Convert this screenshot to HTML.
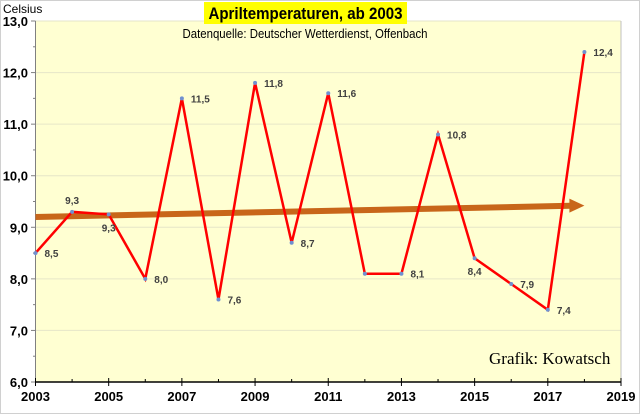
<!DOCTYPE html>
<html><head><meta charset="utf-8"><style>
body{margin:0;background:#fff}
svg{display:block;font-family:"Liberation Sans",sans-serif}
</style></head><body>
<svg id="c" width="640" height="414">
<rect x="0.5" y="0.5" width="639" height="413" fill="#fff" stroke="#d0d0d0"/>
<rect x="35.5" y="21" width="585.5" height="361" fill="#ffffd2"/>
<g id="grid"></g>
<g id="axes"></g>
<text x="3" y="13" font-size="12" fill="#000">Celsius</text>
<rect x="204" y="2" width="203" height="22" fill="#ffff00"/>
<text x="305.5" y="19" font-size="17" font-weight="bold" text-anchor="middle" textLength="194" lengthAdjust="spacingAndGlyphs">Apriltemperaturen,  ab 2003</text>
<text x="305" y="38" font-size="12.5" text-anchor="middle" textLength="245" lengthAdjust="spacingAndGlyphs">Datenquelle: Deutscher Wetterdienst, Offenbach</text>
<text x="489" y="364" font-size="17" font-family="Liberation Serif, serif">Grafik: Kowatsch</text>
<g id="trend"></g>
<g id="series"></g>
</svg>
<script>
const years=[2003,2004,2005,2006,2007,2008,2009,2010,2011,2012,2013,2014,2015,2016,2017,2018];
const temps=[8.5,9.3,9.25,8.0,11.5,7.6,11.8,8.7,11.6,8.1,8.1,10.8,8.4,7.9,7.4,12.4];
const labels=["8,5","9,3","9,3","8,0","11,5","7,6","11,8","8,7","11,6","","8,1","10,8","8,4","7,9","7,4","12,4"];
const labelPos=["r","a","b","r","r","r","r","r","r","r","r","r","b","r","r","r"];
const yTicks=[6,7,8,9,10,11,12,13];
const xTicks=[2003,2005,2007,2009,2011,2013,2015,2017,2019];
const trendStart=9.2, trendEnd=9.42, trendEndYear=2018.0;
const NS="http://www.w3.org/2000/svg";
const X=y=>35.5+(y-2003)*(585.5/16);
const Y=v=>382-(v-6)*51.57;
function mk(t,a,p){const e=document.createElementNS(NS,t);for(const k in a)e.setAttribute(k,a[k]);p.appendChild(e);return e;}
const grid=document.getElementById('grid'),axes=document.getElementById('axes');
yTicks.forEach(v=>{
 if(v>6){const g=mk('line',{x1:35.5,x2:621,y1:Y(v),y2:Y(v),stroke:'#e6e6c8','stroke-width':1},grid);
 
 }
 const t=mk('text',{x:28,y:Y(v)+5,'font-size':13,'font-weight':'bold','text-anchor':'end'},axes);
 t.textContent=v.toFixed(1).replace('.',',');
 
 
 mk('line',{x1:31,x2:35.5,y1:Y(v),y2:Y(v),stroke:'#808080'},axes);
 if(v<13)mk('line',{x1:33,x2:35.5,y1:Y(v+0.5),y2:Y(v+0.5),stroke:'#808080'},axes);
});
mk('line',{x1:35.5,x2:35.5,y1:21,y2:382,stroke:'#808080'},axes);
mk('line',{x1:35.5,x2:621,y1:382,y2:382,stroke:'#000','stroke-width':1.5},axes);
mk('line',{x1:621,x2:621,y1:21,y2:382,stroke:'#c0c0c0'},axes);
xTicks.forEach(y=>{
 mk('line',{x1:X(y),x2:X(y),y1:378,y2:386,stroke:'#000'},axes);
 mk('line',{x1:X(y+1),x2:X(y+1),y1:379,y2:382,stroke:'#000'},axes);
 const t=mk('text',{x:X(y),y:401,'font-size':13,'font-weight':'bold','text-anchor':'middle'},axes);
 t.textContent=y;
 
 
});
const tr=document.getElementById('trend');
const tl=mk('line',{x1:X(2003),y1:Y(trendStart),x2:X(trendEndYear)-14,y2:Y(trendEnd-0.003),stroke:'#c8661a','stroke-width':6},tr);


const ex=X(trendEndYear),ey=Y(trendEnd);
const ah=mk('polygon',{points:`${ex},${ey} ${ex-15},${ey-7} ${ex-15},${ey+7}`,fill:'#c8661a'},tr);


const s=document.getElementById('series');
const pl=mk('polyline',{points:years.map((y,i)=>X(y)+','+Y(temps[i])).join(' '),fill:'none',stroke:'#ff0000','stroke-width':2.5},s);


years.forEach((y,i)=>{
 const c=mk('circle',{cx:X(y),cy:Y(temps[i]),r:2,fill:'#7090d0'},s);
 
 
 if(labels[i]){
  let lx=X(y)+9,ly=Y(temps[i])+4,anc='start';
  if(labelPos[i]=='a'){lx=X(y);ly=Y(temps[i])-8;anc='middle';}
  if(labelPos[i]=='b'){lx=X(y);ly=Y(temps[i])+17;anc='middle';}
  const t=mk('text',{x:lx,y:ly,'font-size':10,'font-weight':'bold',fill:'#404040','text-anchor':anc},s);
  t.textContent=labels[i];
  
  
 }
});
</script>
</body></html>
